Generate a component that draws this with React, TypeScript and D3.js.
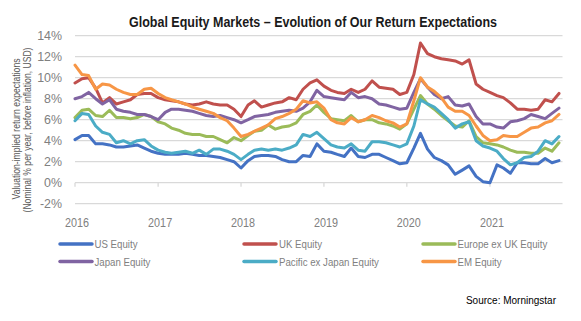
import React from 'react';
import * as d3 from 'd3';

// ---- Data (monthly, Jan 2016 – Nov 2021, % nominal per year) ----
const startMonth = new Date(2016, 0, 1);
const months: Date[] = d3.timeMonth.range(startMonth, new Date(2021, 11, 1)); // 71 months

const seriesNames = [
  'US Equity',
  'UK Equity',
  'Europe ex UK Equity',
  'Japan Equity',
  'Pacific ex Japan Equity',
  'EM Equity',
];

const usEquity = [
  4.1, 4.5, 4.5, 3.7, 3.7, 3.6, 3.4, 3.4, 3.5, 3.6, 3.3, 3.0, 2.8, 2.7, 2.7,
  2.7, 2.8, 2.7, 2.6, 2.6, 2.5, 2.4, 2.2, 2.0, 1.4, 2.1, 2.5, 2.6, 2.6, 2.5,
  2.2, 2.0, 2.0, 2.6, 2.5, 3.7, 3.0, 2.9, 2.7, 2.5, 3.3, 2.5, 2.4, 2.7, 2.7,
  2.4, 2.1, 1.8, 1.9, 3.3, 4.7, 3.2, 2.4, 2.1, 1.7, 0.8, 1.2, 1.6, 0.6, 0.1,
  0.0, 1.7, 1.4, 0.9, 1.9, 1.9, 1.8, 1.8, 2.3, 1.9, 2.1,
];
const ukEquity = [
  9.5, 9.9, 10.0, 9.0, 7.6, 8.1, 7.5, 7.7, 7.9, 8.4, 8.5, 8.5, 8.1, 7.9, 7.8,
  7.7, 7.5, 7.4, 7.5, 7.7, 7.5, 7.4, 7.4, 7.0, 6.3, 7.4, 7.8, 7.2, 7.4, 7.6,
  7.7, 8.1, 7.9, 8.9, 9.5, 9.8, 9.2, 8.8, 8.6, 8.5, 8.9, 8.6, 8.9, 9.7, 9.1,
  9.0, 8.9, 8.4, 8.6, 10.3, 13.3, 12.3, 12.0, 11.8, 11.7, 11.6, 11.3, 11.7, 9.4, 8.9,
  8.6, 8.3, 8.1, 7.6, 7.0, 7.0, 6.9, 7.0, 7.9, 7.7, 8.5,
];
const europeExUkEquity = [
  6.2, 6.9, 7.0, 6.4, 6.3, 6.9, 6.2, 6.2, 6.1, 6.2, 6.5, 6.3, 5.8, 5.6, 5.2,
  5.0, 4.7, 4.6, 4.6, 4.4, 4.4, 4.1, 3.8, 4.3, 4.0, 4.5, 4.9, 5.0, 5.5, 5.1,
  5.3, 5.4, 5.7, 6.5, 6.8, 7.4, 6.7, 6.1, 6.0, 5.9, 6.4, 5.8, 6.0, 6.0, 5.7,
  5.6, 5.4, 5.1, 5.6, 7.0, 8.3, 7.5, 7.0, 6.4, 5.9, 5.4, 5.3, 5.9, 4.4, 3.8,
  3.7, 3.6, 3.4, 3.1, 2.9, 2.9, 2.8, 2.8, 3.3, 3.0, 3.8,
];
const japanEquity = [
  8.0, 8.2, 8.6, 8.0, 7.5, 7.9, 7.0, 6.8, 6.7, 6.5, 6.5, 6.3, 6.0, 6.7, 7.0,
  7.0, 6.9, 6.8, 6.6, 6.4, 6.3, 6.4, 6.2, 6.0, 5.7, 6.0, 6.3, 6.4, 6.5, 6.7,
  6.8, 6.9, 6.8, 7.1, 7.7, 8.8, 8.2, 8.1, 8.0, 7.9, 8.6, 8.1, 8.2, 8.0, 7.5,
  7.4, 7.2, 7.0, 7.1, 8.6, 9.9, 9.1, 8.4, 8.0, 8.2, 7.4, 7.3, 7.5, 6.3, 5.6,
  5.6, 5.3, 5.2, 5.8, 5.9, 6.1, 6.5, 6.3, 6.1, 6.6, 7.1,
];
const pacificExJapanEquity = [
  5.9, 6.6, 6.5, 5.4, 4.8, 4.6, 3.8, 4.0, 3.7, 4.0, 4.1, 3.5, 3.1, 2.9, 2.8,
  2.9, 3.0, 2.8, 3.1, 2.7, 3.2, 3.2, 3.0, 2.7, 2.2, 2.7, 3.1, 3.2, 3.1, 3.2,
  3.1, 3.3, 3.6, 4.6, 4.4, 4.8, 4.2, 3.6, 3.4, 3.3, 3.7, 3.1, 3.0, 3.9, 3.9,
  3.8, 3.6, 3.4, 3.7, 5.4, 7.9, 7.5, 7.2, 6.6, 6.0, 5.2, 5.6, 5.8, 4.0, 3.5,
  3.3, 3.0, 2.3, 1.7, 1.9, 2.4, 2.5, 3.0, 4.0, 3.7, 4.4,
];
const emEquity = [
  11.2, 10.3, 10.2, 8.9, 9.4, 9.3, 8.9, 8.6, 8.4, 8.4, 8.9, 9.0, 8.5, 8.1, 7.9,
  7.7, 7.5, 7.2, 7.0, 6.8, 6.6, 6.2, 5.9, 5.2, 4.4, 4.6, 4.9, 5.2, 5.5, 6.1,
  6.3, 6.6, 7.0, 7.8, 7.6, 7.7, 7.1, 6.0, 5.7, 5.6, 6.2, 5.8, 6.0, 6.4, 6.2,
  5.9, 5.7, 5.3, 5.6, 7.8, 10.0, 9.1, 8.7, 8.1, 7.2, 6.8, 6.8, 6.4, 5.4, 4.5,
  4.0, 4.1, 4.5, 4.4, 4.4, 4.8, 5.2, 5.3, 5.7, 5.9, 6.5,
];

const seriesValues = [usEquity, ukEquity, europeExUkEquity, japanEquity, pacificExJapanEquity, emEquity];
const seriesColors = ['#4472C4', '#C0504D', '#9BBB59', '#8064A2', '#4BACC6', '#F79646'];

const yTicks = [-2, 0, 2, 4, 6, 8, 10, 12, 14];
const yearTicks = [2016, 2017, 2018, 2019, 2020, 2021];

const titleText = 'Global Equity Markets \u2013 Evolution of Our Return Expectations';
const yTitle1 = 'Valuation-implied return expectations';
const yTitle2 = '(Nominal % per year, before inflation, USD)';
const sourceText = 'Source: Morningstar';

const W = 581;
const H = 321;
const SANS = "'Liberation Sans', Arial, Helvetica, sans-serif";

type NTextProps = {
  x: number;
  y: number;
  size: number;
  sx?: number;
  rotate?: number;
  anchor?: 'start' | 'middle' | 'end';
  fill?: string;
  weight?: string;
  children: React.ReactNode;
};

// Condensed text: Liberation Sans squeezed horizontally (Arial Narrow look-alike)
function NText({ x, y, size, sx = 0.82, rotate = 0, anchor = 'start', fill = '#808080', weight = 'normal', children }: NTextProps) {
  return (
    <text
      transform={`translate(${x},${y}) rotate(${rotate}) scale(${sx},1)`}
      textAnchor={anchor}
      fontFamily={SANS}
      fontSize={size}
      fontWeight={weight}
      fill={fill}
    >
      {children}
    </text>
  );
}

export default function App() {
  const x = d3.scaleTime().domain([months[0], months[months.length - 1]]).range([75, 559]);
  const y = d3.scaleLinear().domain([-2, 14]).range([203.7, 35.7]);
  const gridX0 = 75;
  const gridX1 = 562.5;

  const line = d3
    .line<number>()
    .x((_, i) => x(months[i]))
    .y((d) => y(d));

  const legendCols = [
    { sx0: 60, sx1: 92, tx: 94.5 },
    { sx0: 244, sx1: 276, tx: 279 },
    { sx0: 423, sx1: 455, tx: 457.5 },
  ];
  const legendRows = [244, 261.5];

  return (
    <svg
      width={W}
      height={H}
      viewBox={`0 0 ${W} ${H}`}
      style={{ position: 'absolute', left: 0, top: 0, background: '#fff' }}
    >
      <rect x={0} y={0} width={W} height={H} fill="#fff" />
      {/* Title */}
      <text
        x={313}
        y={26.5}
        textAnchor="middle"
        fontFamily={SANS}
        fontWeight="bold"
        fontSize={14.5}
        fill="#1a1a1a"
        textLength={368}
        lengthAdjust="spacingAndGlyphs"
      >
        {titleText}
      </text>

      {/* Gridlines */}
      {yTicks.map((t) => (
        <line key={`g${t}`} x1={gridX0} x2={gridX1} y1={y(t)} y2={y(t)} stroke="#d9d9d9" strokeWidth={1.3} />
      ))}
      {/* Y tick labels */}
      {yTicks.map((t) => (
        <NText key={`yl${t}`} x={62} y={y(t) + 4.7} size={13.5} sx={0.92} anchor="end">
          {`${t}%`}
        </NText>
      ))}
      {/* X ticks at 0% line */}
      {yearTicks.map((yr) => {
        const xx = x(new Date(yr, 0, 1));
        return (
          <g key={`xt${yr}`}>
            <line x1={xx} x2={xx} y1={y(0)} y2={y(0) + 4} stroke="#d9d9d9" strokeWidth={1.3} />
            <NText x={xx + 2} y={226.8} size={13.5} sx={0.8} anchor="middle">
              {yr}
            </NText>
          </g>
        );
      })}

      {/* Y axis title */}
      <NText x={19.5} y={129} size={10.5} sx={0.82} rotate={-90} anchor="middle" fill="#595959">
        {yTitle1}
      </NText>
      <NText x={31} y={130} size={10.5} sx={0.82} rotate={-90} anchor="middle" fill="#595959">
        {yTitle2}
      </NText>

      {/* Series lines */}
      {seriesValues.map((vals, k) => (
        <path
          key={seriesNames[k]}
          d={line(vals) || ''}
          fill="none"
          stroke={seriesColors[k]}
          strokeWidth={3}
          strokeLinejoin="round"
          strokeLinecap="round"
        />
      ))}

      {/* Legend */}
      {seriesNames.map((name, k) => {
        const col = legendCols[k % 3];
        const ry = legendRows[Math.floor(k / 3)];
        return (
          <g key={`lg${k}`}>
            <line
              x1={col.sx0}
              x2={col.sx1}
              y1={ry}
              y2={ry}
              stroke={seriesColors[k]}
              strokeWidth={3.5}
              strokeLinecap="round"
            />
            <NText x={col.tx} y={ry + 4.3} size={11.8} sx={0.82}>
              {name}
            </NText>
          </g>
        );
      })}

      {/* Source */}
      <text
        x={556}
        y={303.5}
        textAnchor="end"
        fontFamily={SANS}
        fontSize={10}
        fill="#000"
      >
        {sourceText}
      </text>
    </svg>
  );
}
